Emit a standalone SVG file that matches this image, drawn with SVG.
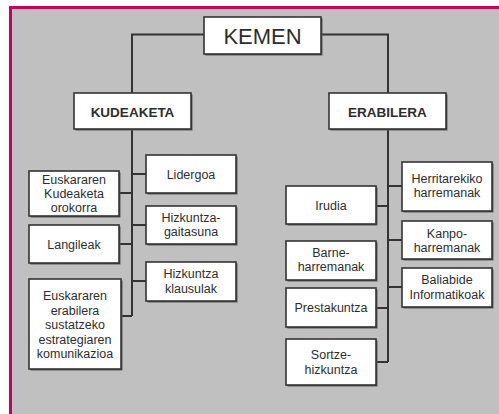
<svg xmlns="http://www.w3.org/2000/svg" width="499" height="414" viewBox="0 0 499 414">
<style>
.bg{fill:#c0c0c0}
.frame{fill:none;stroke:#c8005f;stroke-width:3}
.sh{fill:#5a5a5a}
.box{fill:#ffffff;stroke:#333333;stroke-width:1.6}
.t{font-family:"Liberation Sans",Arial,sans-serif;font-size:12.5px;fill:#2e2e2e;text-anchor:middle}
.h{font-family:"Liberation Sans",Arial,sans-serif;font-size:13.5px;font-weight:bold;fill:#2e2e2e;text-anchor:middle}
.k{font-family:"Liberation Sans",Arial,sans-serif;font-size:22px;fill:#2e2e2e;text-anchor:middle}
.c{fill:none;stroke:#333333;stroke-width:2}
</style>
<rect x="0" y="0" width="499" height="414" fill="#ffffff"/>
<rect class="bg" x="10" y="7" width="489" height="407"/>
<path class="frame" d="M10.5,414 V7.5 H499"/>
<g id="connectors">
<path class="c" d="M204,34.5 H132 V93"/>
<path class="c" d="M321,34.5 H388 V93"/>
<path class="c" d="M132,129 V316"/>
<path class="c" d="M132,174 H146 M132,225 H146 M132,281 H146 M119,193 H132 M119,244 H132 M121,316 H132"/>
<path class="c" d="M388,129 V362"/>
<path class="c" d="M388,186 H402 M388,240 H402 M388,287 H402 M376,206 H388 M376,308 H388 M376,362 H388"/>
</g>
<g id="kemen"><rect class="sh" x="205.5" y="18.5" width="117" height="37"/><rect class="box" x="204" y="17" width="117" height="37"/><text class="k" x="262.5" y="44">KEMEN</text></g>
<g id="kudeaketa"><rect class="sh" x="75.5" y="94.5" width="117" height="36"/><rect class="box" x="74" y="93" width="117" height="36"/><text class="h" x="132.5" y="116.5">KUDEAKETA</text></g>
<g id="erabilera"><rect class="sh" x="330.5" y="94.5" width="117" height="36"/><rect class="box" x="329" y="93" width="117" height="36"/><text class="h" x="387.5" y="116.5">ERABILERA</text></g>
<g id="lidergoa"><rect class="sh" x="147.5" y="156.5" width="90" height="38"/><rect class="box" x="146" y="155" width="90" height="38"/><text class="t" x="191" y="178.5">Lidergoa</text></g>
<g id="kudeaketa-orokorra"><rect class="sh" x="30.5" y="172.5" width="90" height="45"/><rect class="box" x="29" y="171" width="90" height="45"/><text class="t" x="74" y="184">Euskararen</text><text class="t" x="74" y="198">Kudeaketa</text><text class="t" x="74" y="212">orokorra</text></g>
<g id="hizkuntza-gaitasuna"><rect class="sh" x="147.5" y="207.5" width="90" height="38"/><rect class="box" x="146" y="206" width="90" height="38"/><text class="t" x="191" y="221.5">Hizkuntza-</text><text class="t" x="191" y="236">gaitasuna</text></g>
<g id="langileak"><rect class="sh" x="30.5" y="226.5" width="90" height="38"/><rect class="box" x="29" y="225" width="90" height="38"/><text class="t" x="74" y="248.5">Langileak</text></g>
<g id="hizkuntza-klausulak"><rect class="sh" x="147.5" y="263.5" width="90" height="39"/><rect class="box" x="146" y="262" width="90" height="39"/><text class="t" x="191" y="278">Hizkuntza</text><text class="t" x="191" y="292.5">klausulak</text></g>
<g id="komunikazioa"><rect class="sh" x="30.5" y="280.5" width="92" height="90"/><rect class="box" x="29" y="279" width="92" height="90"/><text class="t" x="75" y="300">Euskararen</text><text class="t" x="75" y="314.5">erabilera</text><text class="t" x="75" y="329">sustatzeko</text><text class="t" x="75" y="343.5">estrategiaren</text><text class="t" x="75" y="358">komunikazioa</text></g>
<g id="herritarekiko"><rect class="sh" x="403.5" y="163.5" width="90" height="49"/><rect class="box" x="402" y="162" width="90" height="49"/><text class="t" x="447" y="182.5">Herritarekiko</text><text class="t" x="447" y="197">harremanak</text></g>
<g id="irudia"><rect class="sh" x="287.5" y="187.5" width="90" height="38"/><rect class="box" x="286" y="186" width="90" height="38"/><text class="t" x="331" y="209.5">Irudia</text></g>
<g id="kanpo"><rect class="sh" x="403.5" y="222.5" width="90" height="38"/><rect class="box" x="402" y="221" width="90" height="38"/><text class="t" x="447" y="237.5">Kanpo-</text><text class="t" x="447" y="252">harremanak</text></g>
<g id="barne"><rect class="sh" x="287.5" y="242.5" width="90" height="39"/><rect class="box" x="286" y="241" width="90" height="39"/><text class="t" x="331" y="256.5">Barne-</text><text class="t" x="331" y="271">harremanak</text></g>
<g id="baliabide"><rect class="sh" x="403.5" y="269.5" width="90" height="39"/><rect class="box" x="402" y="268" width="90" height="39"/><text class="t" x="447" y="284">Baliabide</text><text class="t" x="447" y="298.5">Informatikoak</text></g>
<g id="prestakuntza"><rect class="sh" x="287.5" y="289.5" width="90" height="39"/><rect class="box" x="286" y="288" width="90" height="39"/><text class="t" x="331" y="312">Prestakuntza</text></g>
<g id="sortze"><rect class="sh" x="287.5" y="340.5" width="90" height="46"/><rect class="box" x="286" y="339" width="90" height="46"/><text class="t" x="331" y="359">Sortze-</text><text class="t" x="331" y="373.5">hizkuntza</text></g>
</svg>
